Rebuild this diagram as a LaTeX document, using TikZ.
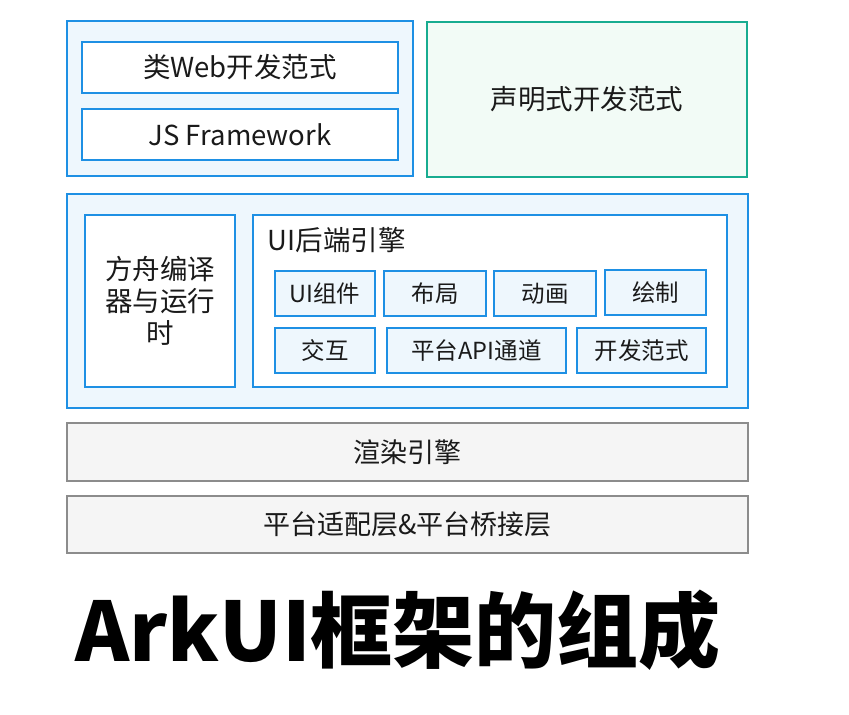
\documentclass[tikz,border=0pt]{standalone}
\usepackage{fontspec}
\setmainfont{Noto Sans CJK SC}
\usetikzlibrary{positioning}
\definecolor{boxblue}{RGB}{30,144,228}
\definecolor{fillblue}{RGB}{238,247,253}
\definecolor{boxgreen}{RGB}{24,172,144}
\definecolor{fillgreen}{RGB}{242,251,246}
\definecolor{boxgray}{RGB}{140,140,140}
\definecolor{fillgray}{RGB}{245,245,245}
\definecolor{ink}{RGB}{26,26,26}

\begin{document}
\begin{tikzpicture}[x=1pt, y=-1pt, line width=1.6pt, text=ink,
  layer/.style={draw=boxblue, fill=fillblue, inner sep=0pt},
  part/.style={draw=boxblue, fill=white, inner sep=0pt, font=\fontsize{27.5}{33}\selectfont},
  module/.style={draw=boxblue, fill=fillblue, inner sep=0pt, minimum height=45pt, font=\fontsize{23.5}{28}\selectfont},
  base/.style={draw=boxgray, fill=fillgray, inner sep=0pt, minimum width=681pt, font=\fontsize{27}{32}\selectfont}]
  \useasboundingbox (0,0) rectangle (849,715);
  % front-end paradigms
  \node[layer, minimum width=346pt, minimum height=155pt] (web) at (240,98.5) {};
  \node[part, minimum width=316pt, minimum height=51pt] (webdev) at (240,67.5) {类Web开发范式};
  \node[part, minimum width=316pt, minimum height=51pt] (jsfw) at (240,134.5) {JS Framework};
  \node[draw=boxgreen, fill=fillgreen, inner sep=0pt, minimum width=320pt, minimum height=155pt,
    font=\fontsize{27.5}{33}\selectfont] (decl) at (587,99.5) {声明式开发范式};
  % engine layer
  \node[layer, minimum width=681pt, minimum height=214pt] (engine) at (407.5,301) {};
  \node[part, minimum width=150pt, minimum height=172pt, align=center,
    font=\fontsize{27.5}{32}\selectfont] (ark) at (160,301) {方舟编译\\器与运行\\时};
  \node[part, minimum width=474pt, minimum height=172pt] (backend) at (490,301) {};
  \node[anchor=west, inner sep=0pt, font=\fontsize{27.5}{33}\selectfont] (backendlbl) at (267,240) {UI后端引擎};
  \node[module, minimum width=100pt] (uicomp) at (325,293.5) {UI组件};
  \node[module, minimum width=102pt] (layout) at (435,293.5) {布局};
  \node[module, minimum width=102pt] (anim) at (545,293.5) {动画};
  \node[module, minimum width=101pt] (paint) at (655.5,292.5) {绘制};
  \node[module, minimum width=100pt] (interact) at (325,350.5) {交互};
  \node[module, minimum width=179pt] (api) at (476.5,350.5) {平台API通道};
  \node[module, minimum width=129pt] (devpat) at (641.5,350.5) {开发范式};
  % lower layers
  \node[base, minimum height=58pt] (render) at (407.5,452) {渲染引擎};
  \node[base, minimum height=57pt] (bridge) at (407.5,524.5) {平台适配层\&平台桥接层};
  \node[text=black, inner sep=0pt, font=\bfseries\fontsize{82}{94}\selectfont] (title) at (398,630) {ArkUI框架的组成};
\end{tikzpicture}
\end{document}
